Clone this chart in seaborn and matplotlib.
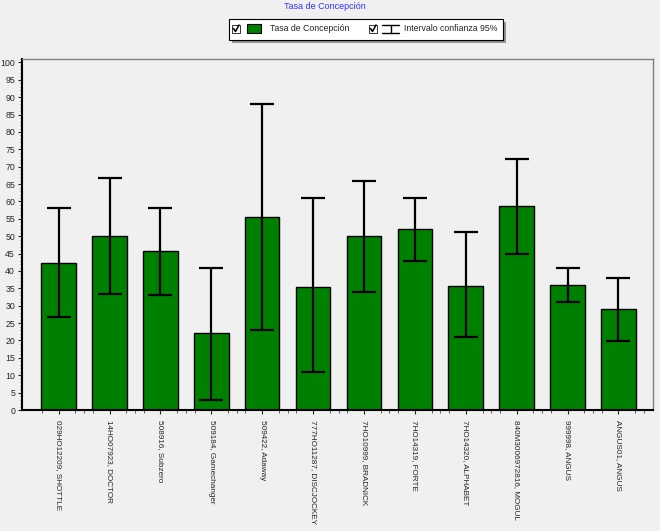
import matplotlib
matplotlib.use("Agg")
import matplotlib.pyplot as plt
from matplotlib.patches import Rectangle
from matplotlib.lines import Line2D
from matplotlib.ticker import MultipleLocator, FixedLocator
import seaborn as sns
import numpy as np
import pandas as pd

categories = [
    "029HO12209, SHOTTLE", "14HO07923, DOCTOR", "508916, Subzero",
    "509184, Gamechanger", "509422, Adaway", "777HO11287, DISCJOCKEY",
    "7HO10999, BRADNICK", "7HO14319, FORTE", "7HO14320, ALPHABET",
    "840M3006972816, MOGUL", "999998, ANGUS", "ANGUS01, ANGUS",
]
tasa = [42.3, 50.0, 45.7, 22.1, 55.5, 35.5, 50.0, 52.1, 35.7, 58.7, 36.0, 29.1]
ic_low = [26.7, 33.3, 33.0, 2.9, 23.1, 11.0, 33.9, 42.9, 21.1, 44.9, 31.1, 19.9]
ic_high = [58.0, 66.7, 58.0, 41.0, 88.1, 61.1, 65.8, 61.1, 51.1, 72.2, 41.0, 38.1]

title = "Tasa de Concepción"
legend_bar = "Tasa de Concepción"
legend_err = "Intervalo confianza 95%"

bg = "#f0f0f0"
sns.set_style("white")
plt.rcParams["font.family"] = ["Liberation Sans", "DejaVu Sans"]

W, H = 660, 531
fig = plt.figure(figsize=(6.6, 5.31), dpi=100, facecolor=bg)
ax = fig.add_axes([22 / W, 1 - 410 / H, (653 - 22) / W, (410 - 59) / H])
ax.set_facecolor(bg)

df = pd.DataFrame({"cat": categories, "val": tasa})
sns.barplot(data=df, x="cat", y="val", color="#008000", edgecolor="black",
            linewidth=1.0, width=0.68, saturation=1, ax=ax)

x = np.arange(len(categories))
vals = np.array(tasa)
yerr = [vals - np.array(ic_low), np.array(ic_high) - vals]
ax.errorbar(x, vals, yerr=yerr, fmt="none", ecolor="black", elinewidth=1.6,
            capsize=8.5, capthick=1.6, zorder=5)

ax.set_xlim(-0.72, len(categories) - 1 + 0.68)
ax.set_ylim(0, 101)
ax.set_xlabel("")
ax.set_ylabel("")
ax.yaxis.set_major_locator(MultipleLocator(5))
ax.yaxis.set_minor_locator(MultipleLocator(1))
ax.set_xticks(x)
ax.set_xticklabels(categories, rotation=270, fontsize=5.9, va="top", ha="center")
ax.xaxis.set_minor_locator(FixedLocator(
    np.concatenate([x - 0.33, x + 0.33, x + 0.5])))
ax.tick_params(axis="y", which="major", labelsize=6.3, length=3, width=0.8,
               direction="out", left=True, pad=2)
ax.tick_params(axis="y", which="minor", length=1.5, width=0.5,
               direction="out", left=True)
ax.tick_params(axis="x", which="major", length=3, width=0.8,
               direction="out", bottom=True, pad=4)
ax.tick_params(axis="x", which="minor", length=2, width=0.5,
               direction="out", bottom=True)

for side in ["left", "bottom"]:
    ax.spines[side].set_color("black")
    ax.spines[side].set_linewidth(1.5)
for side in ["top", "right"]:
    ax.spines[side].set_color("#808080")
    ax.spines[side].set_linewidth(1.0)

# title
fig.text(325 / W, 1 - 6.5 / H, title, color="#3333ff", fontsize=6.5,
         ha="center", va="center")

# legend box (manual, windows style)
def fx(px):
    return px / W

def fy(py):
    return 1 - py / H

shadow = Rectangle((fx(232), fy(43)), fx(503 - 229), (43 - 22) / H,
                   transform=fig.transFigure, facecolor="#555555",
                   edgecolor="none", zorder=1, alpha=0.6)
box = Rectangle((fx(229), fy(40)), fx(503 - 229), (40 - 19) / H,
                transform=fig.transFigure, facecolor="white",
                edgecolor="black", linewidth=0.8, zorder=2)
fig.add_artist(shadow)
fig.add_artist(box)

for cx in (232, 369):
    fig.add_artist(Rectangle((fx(cx), fy(33)), fx(8), 8 / H,
                             transform=fig.transFigure, facecolor="white",
                             edgecolor="#333333", linewidth=0.7, zorder=3))
    fig.add_artist(Line2D([fx(cx + 1.5), fx(cx + 3.5), fx(cx + 7)],
                          [fy(28.5), fy(31.5), fy(25)],
                          transform=fig.transFigure, color="black",
                          linewidth=1.1, zorder=4))

fig.add_artist(Rectangle((fx(247), fy(33)), fx(14), 9 / H,
                         transform=fig.transFigure, facecolor="#008000",
                         edgecolor="black", linewidth=0.8, zorder=3))
fig.text(fx(270), fy(28.5), legend_bar, fontsize=6.3, ha="left", va="center",
         zorder=4)

for yy in (24.5, 32.5):
    fig.add_artist(Line2D([fx(382), fx(399)], [fy(yy), fy(yy)],
                          transform=fig.transFigure, color="black",
                          linewidth=1.0, zorder=4))
fig.add_artist(Line2D([fx(390.5), fx(390.5)], [fy(24.5), fy(32.5)],
                      transform=fig.transFigure, color="black",
                      linewidth=1.0, zorder=4))
fig.text(fx(404), fy(28.5), legend_err, fontsize=6.3, ha="left", va="center",
         zorder=4)

fig.savefig("out.png", dpi=100, facecolor=bg)
